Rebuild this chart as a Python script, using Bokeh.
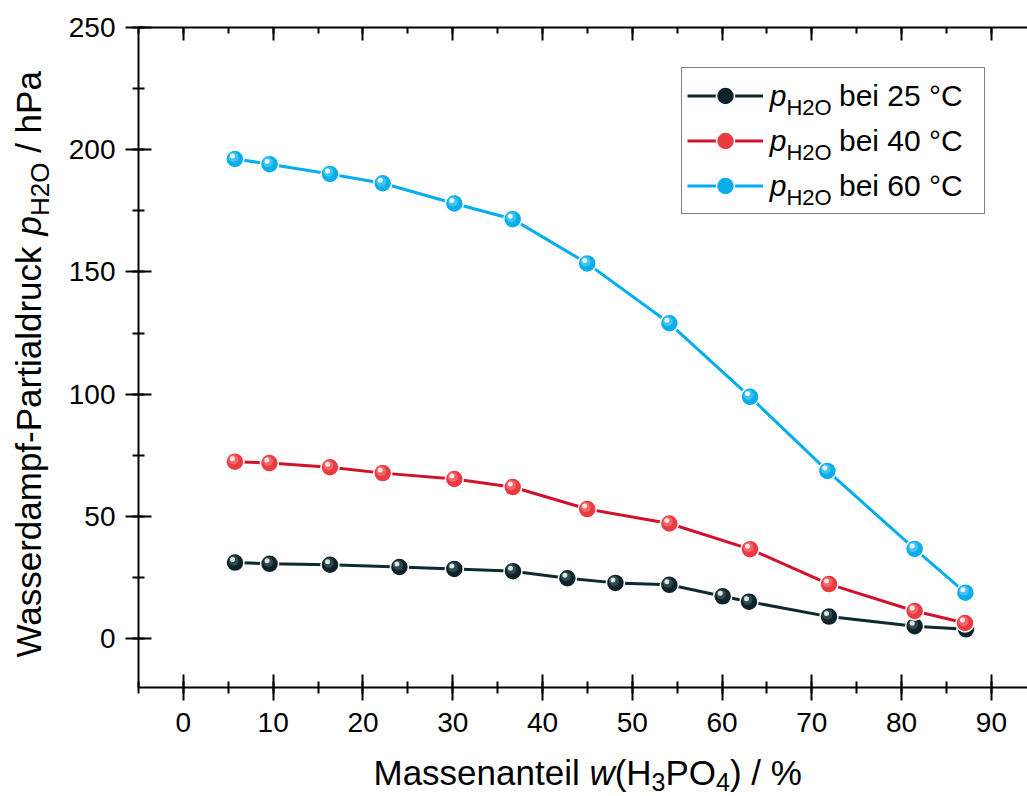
from bokeh.plotting import figure
from bokeh.layouts import row, column
from bokeh.models import (ColumnDataSource, LinearAxis, SingleIntervalTicker, Range1d,
                          Label, Legend, LegendItem, CustomJSTickFormatter)
from bokeh.transform import dodge
from bokeh.embed import file_html
from bokeh.resources import INLINE

# ---- data ----
w_25 = [5.75, 9.6, 16.33, 24.06, 30.18, 36.71, 42.77, 48.12, 54.13, 60.07, 63.0, 71.91, 81.45, 87.17]
p_25 = [31.1, 30.6, 30.2, 29.3, 28.5, 27.6, 24.7, 22.8, 22.0, 17.3, 15.1, 9.0, 5.1, 3.8]
w_40 = [5.74, 9.58, 16.33, 22.2, 30.18, 36.68, 44.98, 54.13, 63.11, 71.91, 81.45, 87.06]
p_40 = [72.4, 71.8, 70.1, 67.7, 65.3, 62.0, 53.0, 47.1, 36.6, 22.3, 11.3, 6.4]
w_60 = [5.74, 9.6, 16.33, 22.2, 30.18, 36.68, 44.98, 54.13, 63.11, 71.73, 81.45, 87.1]
p_60 = [196.2, 194.1, 190.1, 186.3, 178.0, 171.6, 153.5, 129.0, 98.9, 68.6, 36.7, 18.8]
series_labels = ["bei 25 °C", "bei 40 °C", "bei 60 °C"]

FONT = "Liberation Sans"
TOTAL_W, TOTAL_H = 1027, 796
LEFT_W = 60
BOTTOM_H = 44
X0, Y0, Y1 = -5.0, -20.0, 250.0
XS = 8.978
BL, BT = 78, 27
MAIN_W = TOTAL_W - LEFT_W
FW, FH = MAIN_W - BL, 660
YS = FH / (Y1 - Y0)
X1 = X0 + FW / XS
BB = TOTAL_H - BOTTOM_H - BT - FH

p = figure(width=MAIN_W, height=BT + FH + BB, min_border_left=BL, min_border_right=0,
           min_border_top=BT, min_border_bottom=BB,
           x_range=Range1d(X0, X1), y_range=Range1d(Y0, Y1),
           output_backend="svg", toolbar_location=None, x_axis_location=None,
           y_axis_location=None)
p.outline_line_color = None
p.grid.visible = False
p.background_fill_color = "white"
p.border_fill_color = "white"

def style_axis(ax, interval, inward_only=False, standoff=8, tin=13, tmin=6):
    ax.ticker = SingleIntervalTicker(interval=interval, num_minor_ticks=2)
    ax.axis_line_width = 2
    ax.axis_line_color = "black"
    ax.major_tick_line_width = 2
    ax.minor_tick_line_width = 2
    ax.major_tick_line_color = "black"
    ax.minor_tick_line_color = "black"
    ax.major_tick_in = tin
    ax.minor_tick_in = tmin
    if inward_only:
        ax.major_tick_out = 0
        ax.minor_tick_out = 0
        ax.formatter = CustomJSTickFormatter(code="return ''")
        ax.major_label_standoff = 0
        ax.major_label_text_font_size = "1px"
    else:
        ax.major_tick_out = 13
        ax.minor_tick_out = 6
        ax.major_label_text_font = FONT
        ax.major_label_text_font_size = "28px"
        ax.major_label_text_color = "black"
        ax.major_label_standoff = standoff

xb = LinearAxis(); style_axis(xb, 10, standoff=12); p.add_layout(xb, "below")
yl = LinearAxis(); style_axis(yl, 50, standoff=10); p.add_layout(yl, "left")
xt = LinearAxis(); style_axis(xt, 10, inward_only=True); p.add_layout(xt, "above")

styles = [
    dict(line="#0e2a31", ball="#0b2329", hl1="#52696e", hl2="#e6eded"),
    dict(line="#d2122b", ball="#ea3b40", hl1="#f58a8c", hl2="#ffecec"),
    dict(line="#00aeef", ball="#08aeea", hl1="#6fd3f7", hl2="#f2fcff"),
]
HX, HY = -2.5 / XS, 3.0 / YS

items = []
for (wx, py), st, lab in zip([(w_25, p_25), (w_40, p_40), (w_60, p_60)], styles, series_labels):
    src = ColumnDataSource(dict(x=wx, y=py))
    lr = p.line("x", "y", source=src, line_color=st["line"], line_width=3)
    br = p.scatter("x", "y", source=src, size=18, marker="circle", fill_color=st["ball"],
                   line_color="white", line_width=1.5)
    p.scatter(dodge("x", HX * 0.6, range=p.x_range), dodge("y", HY * 0.6, range=p.y_range),
              source=src, size=10, marker="circle", fill_color=st["hl1"], fill_alpha=0.55,
              line_color=None)
    p.scatter(dodge("x", HX, range=p.x_range), dodge("y", HY, range=p.y_range),
              source=src, size=5, marker="circle", fill_color=st["hl2"], fill_alpha=0.95,
              line_color=None)
    items.append(LegendItem(label=lab, renderers=[lr, br]))

FL = LEFT_W + BL
FB = BT + FH
def dx(px): return X0 + (px - FL) / XS
def dy(py): return Y0 + (FB - py) / YS

LT, LL = 69.3, 681.0
legend = Legend(items=items, location=(LL - FL, FB - (LT + 145)), padding=5, spacing=0,
                glyph_width=76, glyph_height=45, label_standoff=76, label_width=140,
                label_text_font=FONT, label_text_font_size="30px", label_text_color="black",
                border_line_color="black", border_line_width=1.5,
                background_fill_color="white", background_fill_alpha=0.0)
p.add_layout(legend)

ADV = {' ': 278, 'M': 833, 'a': 556, 's': 500, 'e': 556, 'n': 556, 't': 278, 'i': 222,
       'l': 222, 'w': 722, '(': 333, ')': 333, 'H': 722, 'P': 667, 'O': 778, '/': 278,
       '%': 889, 'W': 944, 'r': 333, 'd': 556, 'm': 833, 'p': 556, 'f': 278, '-': 333,
       'u': 556, 'c': 500, 'k': 500, 'h': 556, '2': 556, '3': 556, '4': 556}
K_MID = 0.3465   # distance of the text-box middle above the baseline, in em

def tw(s, size):
    return sum(ADV[c] for c in s) * size / 1000.0

def rich(fig, pieces, x, y, angle=0):
    """x, y: baseline start of the first piece (data units of fig)."""
    off = 0.0
    for text, size, style, drop in pieces:
        lead = len(text) - len(text.lstrip(" "))
        off += tw(" " * lead, size)
        shown = text.lstrip(" ")
        mid = K_MID * size
        if angle == 0:
            xo, yo = off, -drop + mid
        else:
            xo, yo = drop - mid, off
        fig.add_layout(Label(x=x, y=y, x_offset=xo, y_offset=yo, text=shown, level="overlay",
                             text_font=FONT, text_font_size=f"{size}px", text_font_style=style,
                             text_color="black", text_align="left", text_baseline="middle",
                             angle=angle, angle_units="deg"))
        off += tw(shown, size)

# legend symbol prefix p_H2O
for rc in [LT + 5 + 22.5, LT + 5 + 67.5, LT + 5 + 112.5]:
    rich(p, [("p", 30, "italic", 0), ("H2O", 22, "normal", 9)], dx(769.3), dy(rc + 9))

def text_strip(w, h, x_range):
    f = figure(width=w, height=h, x_range=x_range, y_range=Range1d(0, h),
               min_border=0, min_border_left=0, min_border_right=0, min_border_top=0,
               min_border_bottom=0, output_backend="svg", toolbar_location=None,
               x_axis_location=None, y_axis_location=None)
    f.outline_line_color = None
    f.grid.visible = False
    f.background_fill_color = "white"
    f.border_fill_color = "white"
    return f

# y-axis title (left strip, pixel data space)
ly = text_strip(LEFT_W, TOTAL_H, Range1d(0, LEFT_W))
rich(ly, [("Wasserdampf-Partialdruck ", 35, "normal", 0), ("p", 35, "italic", 0),
          ("H2O", 26, "normal", 9), (" / hPa", 35, "normal", 0)],
     40, TOTAL_H - 657, angle=90)

# x-axis title (bottom strip, frame aligned with the main plot, shares its x range)
bx = text_strip(MAIN_W, BOTTOM_H, p.x_range)
rich(bx, [("Massenanteil ", 35, "normal", 0), ("w", 35, "italic", 0), ("(H", 35, "normal", 0),
          ("3", 25, "normal", 6), ("PO", 35, "normal", 0), ("4", 25, "normal", 6),
          (") / %", 35, "normal", 0)], dx(373), TOTAL_H - 784)

layout = row(ly, column(p, bx, spacing=0), spacing=0)
open("out.html", "w").write(file_html(layout, INLINE))
